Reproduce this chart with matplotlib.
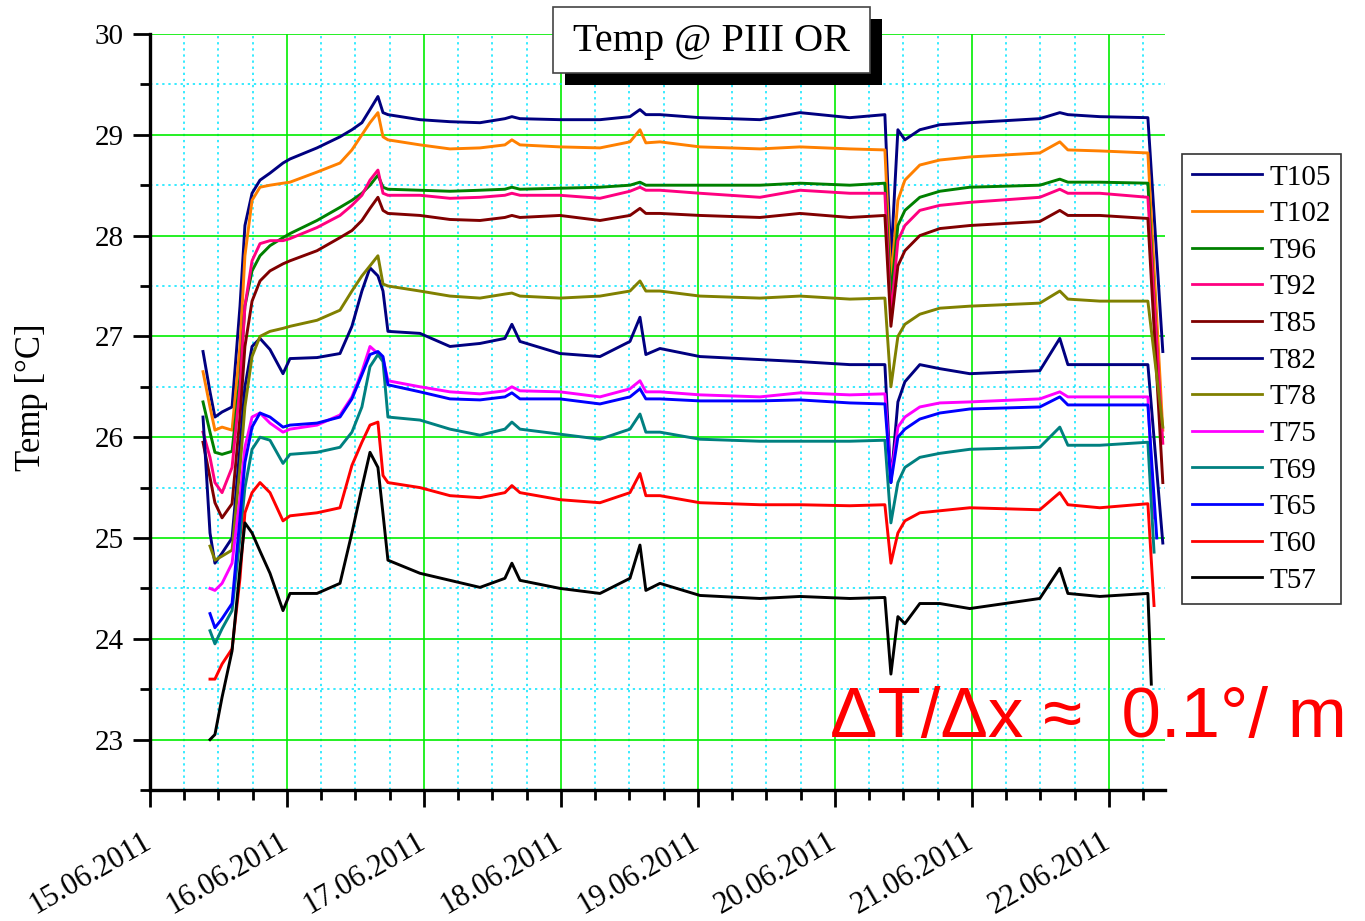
import numpy as np
import matplotlib
matplotlib.use("Agg")
import matplotlib.pyplot as plt
from matplotlib.patches import Rectangle
from matplotlib.ticker import MultipleLocator
from matplotlib.transforms import ScaledTranslation

# время в сутках от 15.06.2011 00:00
DAYS = [0.387, 0.438, 0.474, 0.526, 0.599, 0.657, 0.693, 0.745, 0.803, 0.876,
        0.971, 1.022, 1.219, 1.387, 1.474, 1.547, 1.606, 1.664, 1.701, 1.737,
        1.971, 2.190, 2.409, 2.591, 2.642, 2.701, 2.993, 3.285, 3.504, 3.577,
        3.620, 3.723, 4.015, 4.453, 4.745, 5.109, 5.365, 5.409, 5.460, 5.511,
        5.620, 5.766, 5.985, 6.496, 6.642, 6.701, 6.934, 7.285]

nan = np.nan
T105 = [26.85, 26.45, 26.2, 26.25, 26.3, 27.3, 28.1, 28.42, 28.55, 28.62,
        28.72, 28.76, 28.87, 28.98, 29.05, 29.12, 29.25, 29.38, 29.22, 29.2,
        29.15, 29.13, 29.12, 29.16, 29.18, 29.16, 29.15, 29.15, 29.18, 29.25,
        29.2, 29.2, 29.17, 29.15, 29.22, 29.17, 29.2, 27.75, 29.05, 28.95,
        29.05, 29.1, 29.12, 29.16, 29.22, 29.2, 29.18, 29.17]
T102 = [26.65, 26.3, 26.07, 26.1, 26.07, 26.9, 27.8, 28.35, 28.48, 28.5,
        28.52, 28.53, 28.63, 28.72, 28.85, 29.0, 29.12, 29.22, 28.98, 28.95,
        28.9, 28.86, 28.87, 28.9, 28.95, 28.9, 28.88, 28.87, 28.93, 29.05,
        28.92, 28.93, 28.88, 28.86, 28.88, 28.86, 28.85, 27.55, 28.35, 28.55,
        28.7, 28.75, 28.78, 28.82, 28.93, 28.85, 28.84, 28.82]
T96 = [26.35, 26.05, 25.85, 25.83, 25.86, 26.6, 27.3, 27.65, 27.8, 27.9,
       27.98, 28.02, 28.15, 28.28, 28.35, 28.42, 28.5, 28.6, 28.48, 28.46,
       28.45, 28.44, 28.45, 28.46, 28.48, 28.46, 28.47, 28.48, 28.5, 28.53,
       28.5, 28.5, 28.5, 28.5, 28.52, 28.5, 28.52, 27.4, 28.1, 28.25,
       28.38, 28.44, 28.48, 28.5, 28.56, 28.53, 28.53, 28.52]
T92 = [26.05, 25.8, 25.55, 25.45, 25.7, 26.5, 27.3, 27.75, 27.92, 27.95,
       27.95, 27.97, 28.08, 28.2, 28.3, 28.4, 28.55, 28.65, 28.42, 28.4,
       28.4, 28.37, 28.38, 28.4, 28.42, 28.4, 28.4, 28.37, 28.44, 28.48,
       28.45, 28.45, 28.42, 28.38, 28.45, 28.42, 28.42, 27.2, 27.95, 28.1,
       28.25, 28.3, 28.33, 28.38, 28.46, 28.42, 28.42, 28.38]
T85 = [25.95, 25.6, 25.35, 25.2, 25.34, 26.2, 26.9, 27.35, 27.55, 27.65,
       27.72, 27.75, 27.85, 27.98, 28.05, 28.15, 28.27, 28.38, 28.25, 28.22,
       28.2, 28.16, 28.15, 28.18, 28.2, 28.18, 28.2, 28.15, 28.2, 28.27,
       28.22, 28.22, 28.2, 28.18, 28.22, 28.18, 28.2, 27.1, 27.7, 27.85,
       28.0, 28.07, 28.1, 28.14, 28.25, 28.2, 28.2, 28.17]
T82 = [26.2, 25.05, 24.75, 24.85, 25.0, 25.9, 26.5, 26.9, 26.98, 26.87,
       26.63, 26.78, 26.79, 26.83, 27.1, 27.45, 27.68, 27.6, 27.45, 27.05,
       27.03, 26.9, 26.93, 26.98, 27.12, 26.95, 26.83, 26.8, 26.95, 27.19,
       26.82, 26.88, 26.8, 26.77, 26.75, 26.72, 26.72, 25.55, 26.35, 26.55,
       26.72, 26.68, 26.63, 26.66, 26.98, 26.72, 26.72, 26.72]
T78 = [nan, 24.92, 24.78, 24.82, 24.88, 25.7, 26.3, 26.8, 27.0, 27.05,
       27.08, 27.1, 27.16, 27.26, 27.45, 27.6, 27.7, 27.8, 27.52, 27.5,
       27.45, 27.4, 27.38, 27.42, 27.43, 27.4, 27.38, 27.4, 27.45, 27.55,
       27.45, 27.45, 27.4, 27.38, 27.4, 27.37, 27.38, 26.5, 27.0, 27.12,
       27.22, 27.28, 27.3, 27.33, 27.45, 27.37, 27.35, 27.35]
T75 = [nan, 24.5, 24.48, 24.55, 24.75, 25.4, 25.9, 26.2, 26.24, 26.14,
       26.05, 26.08, 26.12, 26.22, 26.4, 26.65, 26.9, 26.83, 26.78, 26.56,
       26.5, 26.45, 26.43, 26.46, 26.5, 26.46, 26.45, 26.4, 26.48, 26.56,
       26.45, 26.45, 26.42, 26.4, 26.44, 26.42, 26.43, 25.6, 26.1, 26.2,
       26.3, 26.34, 26.35, 26.38, 26.45, 26.4, 26.4, 26.4]
T69 = [nan, 24.08, 23.95, 24.1, 24.28, 25.0, 25.5, 25.88, 26.0, 25.97,
       25.74, 25.83, 25.85, 25.9, 26.05, 26.3, 26.7, 26.82, 26.75, 26.2,
       26.17, 26.08, 26.02, 26.08, 26.15, 26.08, 26.03, 25.98, 26.08, 26.23,
       26.05, 26.05, 25.98, 25.96, 25.96, 25.96, 25.97, 25.15, 25.55, 25.7,
       25.8, 25.84, 25.88, 25.9, 26.1, 25.92, 25.92, 25.95]
T65 = [nan, 24.25, 24.11, 24.2, 24.35, 25.2, 25.75, 26.1, 26.24, 26.2,
       26.1, 26.12, 26.14, 26.2, 26.38, 26.62, 26.82, 26.85, 26.8, 26.52,
       26.45, 26.38, 26.37, 26.4, 26.44, 26.38, 26.38, 26.33, 26.4, 26.48,
       26.38, 26.38, 26.36, 26.36, 26.37, 26.34, 26.33, 25.55, 26.0, 26.08,
       26.18, 26.24, 26.28, 26.3, 26.4, 26.32, 26.32, 26.32]
T60 = [nan, 23.6, 23.6, 23.75, 23.9, 24.6, 25.25, 25.45, 25.55, 25.45,
       25.17, 25.22, 25.25, 25.3, 25.72, 25.95, 26.12, 26.15, 25.62, 25.55,
       25.5, 25.42, 25.4, 25.45, 25.52, 25.45, 25.38, 25.35, 25.45, 25.64,
       25.42, 25.42, 25.35, 25.33, 25.33, 25.32, 25.33, 24.75, 25.05, 25.17,
       25.25, 25.27, 25.3, 25.28, 25.45, 25.33, 25.3, 25.34]
T57 = [nan, 23.0, 23.05, 23.42, 23.88, 24.7, 25.15, 25.05, 24.87, 24.65,
       24.28, 24.45, 24.45, 24.55, 25.05, 25.5, 25.85, 25.7, 25.24, 24.78,
       24.65, 24.58, 24.51, 24.6, 24.75, 24.58, 24.5, 24.45, 24.6, 24.93,
       24.48, 24.55, 24.43, 24.4, 24.42, 24.4, 24.41, 23.65, 24.22, 24.15,
       24.35, 24.35, 24.3, 24.4, 24.7, 24.45, 24.42, 24.45]

# хвост в конце записи: время и температура последней точки
END_DAY = [7.394, 7.394, 7.37, 7.394, 7.394, 7.394, 7.394, 7.33, 7.33, 7.35, 7.33, 7.31]
END_TEMP = [26.85, 26.07, 26.4, 25.94, 25.55, 24.95, 26.1, 25.2, 24.86, 25.0, 24.33, 23.55]

NAMES = ["T105", "T102", "T96", "T92", "T85", "T82", "T78", "T75", "T69", "T65", "T60", "T57"]
SERIES = [T105, T102, T96, T92, T85, T82, T78, T75, T69, T65, T60, T57]
COLORS = ["#000080", "#ff8000", "#008000", "#ff0080", "#800000", "#000080",
          "#808000", "#ff00ff", "#008080", "#0000ff", "#ff0000", "#000000"]

DATE_LABELS = ["15.06.2011", "16.06.2011", "17.06.2011", "18.06.2011",
               "19.06.2011", "20.06.2011", "21.06.2011", "22.06.2011"]

serif = "Liberation Serif"

fig = plt.figure(figsize=(13.65, 9.21), dpi=100)
ax = fig.add_axes([150 / 1365, 1 - 790 / 921, 1015 / 1365, 756 / 921])

for name, vals, col, ed, et in zip(NAMES, SERIES, COLORS, END_DAY, END_TEMP):
    x = np.array(DAYS + [ed])
    y = np.array(vals + [et])
    ax.plot(x, y, color=col, lw=2.1, label=name)

ax.set_xlim(0, 7.41)
ax.set_ylim(22.5, 30)

ax.xaxis.set_major_locator(MultipleLocator(1))
ax.xaxis.set_minor_locator(MultipleLocator(0.25))
ax.yaxis.set_major_locator(MultipleLocator(1))
ax.yaxis.set_minor_locator(MultipleLocator(0.5))
ax.set_xticks(range(len(DATE_LABELS)))
ax.set_xticklabels(DATE_LABELS, rotation=30, ha="right", va="top",
                   rotation_mode="anchor", fontfamily=serif, fontsize=22)
ax.set_yticks(range(23, 31))
ax.set_yticklabels([str(v) for v in range(23, 31)], fontfamily=serif, fontsize=21)

ax.grid(which="major", color="#00ee00", lw=1.2, ls="-")
ax.grid(which="minor", color="#00e5ff", lw=1.1, ls=(0, (1.5, 2.5)))
ax.set_axisbelow(True)

for s in ["top", "right"]:
    ax.spines[s].set_visible(False)
for s in ["left", "bottom"]:
    ax.spines[s].set_linewidth(2.4)
ax.tick_params(which="major", direction="out", length=12, width=2, pad=7)
ax.tick_params(which="minor", direction="out", length=7, width=2)
ax.tick_params(axis="x", which="major", pad=15)
# сдвигаем подписи дат чуть левее, как в оригинале
shift = ScaledTranslation(-8 / 100, 0, fig.dpi_scale_trans)
for lbl in ax.get_xticklabels():
    lbl.set_transform(lbl.get_transform() + shift)

fig.text(32 / 1365, 1 - 397 / 921, "Temp [°C]", rotation=90, ha="center", va="center",
         fontfamily=serif, fontsize=25)

# легенда справа
leg = ax.legend(loc="upper left", bbox_to_anchor=(1182 / 1365, 1 - 154 / 921),
                bbox_transform=fig.transFigure, prop={"family": serif, "size": 21},
                frameon=True, fancybox=False, handlelength=2.4, handletextpad=0.25,
                labelspacing=0.35, borderpad=0.35, borderaxespad=0)
leg.get_frame().set_edgecolor("black")
leg.get_frame().set_linewidth(1.2)
for h in leg.get_lines():
    h.set_linewidth(2)

# заголовок в рамке с тенью
fig.patches.append(Rectangle((565 / 1365, 1 - 85 / 921), 317 / 1365, 66 / 921,
                             transform=fig.transFigure, facecolor="black", zorder=5))
fig.patches.append(Rectangle((553 / 1365, 1 - 73 / 921), 317 / 1365, 66 / 921,
                             transform=fig.transFigure, facecolor="white",
                             edgecolor="#444444", lw=1.2, zorder=6))
fig.text(711 / 1365, 1 - 42 / 921, "Temp @ PIII OR", ha="center", va="center",
         fontfamily=serif, fontsize=29, zorder=7)

fig.text(830 / 1365, 1 - 737 / 921, "ΔT/Δx ≈  0.1°/ m", color="red",
         fontfamily="Liberation Sans", fontsize=51, va="baseline", ha="left")

fig.savefig("out.png", dpi=100)
